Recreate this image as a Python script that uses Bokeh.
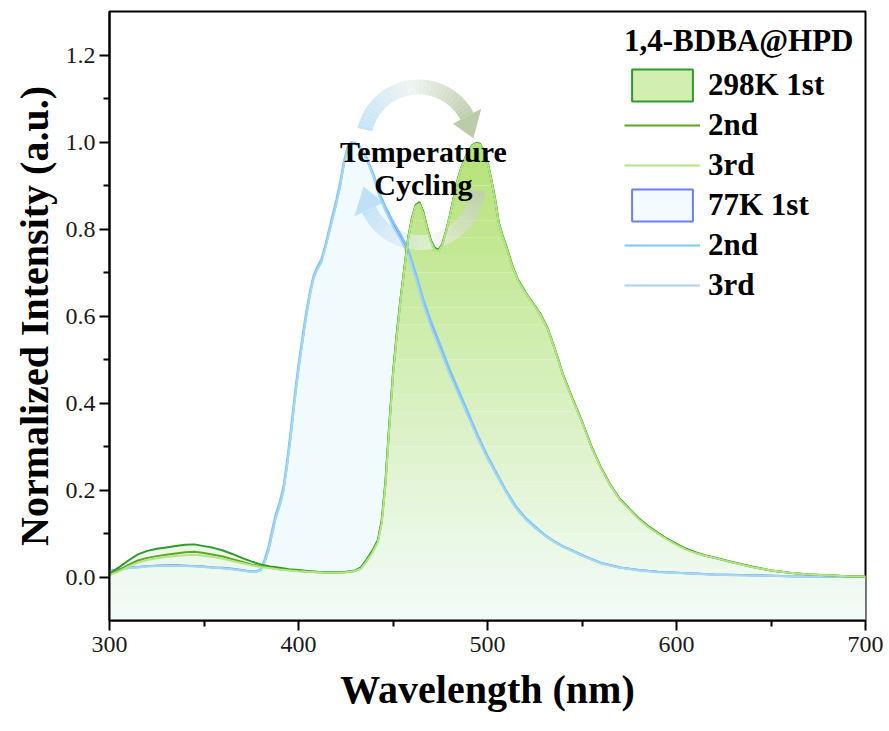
import numpy as np
from bokeh.plotting import figure
from bokeh.models import Legend, LegendItem, FixedTicker, PrintfTickFormatter, Range1d
from bokeh.embed import file_html
from bokeh.resources import INLINE
from bokeh.core.properties import value

# ---------------- data ----------------
wl_298 = [300, 305, 310, 315, 320, 325, 330, 335, 340, 345, 350, 355, 360, 365, 370, 375, 380, 385, 390, 395,
          400, 405, 410, 415, 420, 425, 430,
          433, 436, 439, 442, 444, 446, 448, 450, 452, 454, 456, 458, 460, 462, 464, 466, 468, 470, 472, 474,
          476, 478, 480, 482, 484, 486, 488, 490, 492, 494, 496, 498, 500, 502, 504, 506, 508, 510,
          513, 516, 520, 524, 528, 532, 536, 540, 545, 550, 555, 560, 565, 570, 575, 580, 585, 590, 595, 600,
          605, 610, 615, 620, 630, 640, 650, 660, 670, 680, 690, 700]

k298_1st = [0.008, 0.022, 0.038, 0.052, 0.060, 0.065, 0.068, 0.071, 0.074, 0.075, 0.071, 0.067, 0.061, 0.053,
            0.044, 0.036, 0.029, 0.024, 0.021, 0.018, 0.016, 0.014, 0.012, 0.011, 0.011, 0.012, 0.015,
            0.022, 0.040, 0.060, 0.085, 0.130, 0.220, 0.350, 0.470, 0.560, 0.640, 0.710, 0.780, 0.825, 0.855,
            0.862, 0.840, 0.805, 0.775, 0.757, 0.752, 0.765, 0.795, 0.830, 0.870, 0.910, 0.940, 0.962, 0.980,
            0.993, 0.998, 0.996, 0.982, 0.955, 0.915, 0.870, 0.815, 0.785, 0.760,
            0.718, 0.685, 0.655, 0.630, 0.605, 0.570, 0.520, 0.465, 0.410, 0.358, 0.300, 0.252, 0.212, 0.180,
            0.157, 0.135, 0.117, 0.102, 0.088, 0.076, 0.065, 0.057, 0.050, 0.045, 0.034, 0.024, 0.015, 0.010,
            0.006, 0.004, 0.002, 0.001]

k298_2nd = [0.006, 0.016, 0.028, 0.038, 0.044, 0.048, 0.051, 0.054, 0.057, 0.058, 0.055, 0.051, 0.047, 0.041,
            0.035, 0.029, 0.025, 0.021, 0.018, 0.016, 0.014, 0.012, 0.011, 0.010, 0.010, 0.011, 0.014,
            0.020, 0.037, 0.057, 0.082, 0.126, 0.214, 0.344, 0.466, 0.557, 0.638, 0.709, 0.778, 0.824, 0.854,
            0.860, 0.838, 0.803, 0.772, 0.754, 0.750, 0.763, 0.793, 0.829, 0.869, 0.909, 0.939, 0.961, 0.979,
            0.992, 0.997, 0.995, 0.981, 0.954, 0.914, 0.868, 0.813, 0.783, 0.758,
            0.716, 0.684, 0.654, 0.629, 0.604, 0.569, 0.519, 0.464, 0.409, 0.357, 0.299, 0.251, 0.211, 0.179,
            0.156, 0.134, 0.116, 0.101, 0.087, 0.075, 0.064, 0.056, 0.049, 0.044, 0.033, 0.023, 0.015, 0.010,
            0.006, 0.004, 0.002, 0.001]

k298_3rd = [0.004, 0.013, 0.024, 0.033, 0.039, 0.043, 0.046, 0.048, 0.050, 0.051, 0.049, 0.046, 0.042, 0.037,
            0.032, 0.027, 0.023, 0.020, 0.017, 0.015, 0.013, 0.012, 0.011, 0.010, 0.010, 0.011, 0.014,
            0.019, 0.036, 0.055, 0.080, 0.123, 0.210, 0.340, 0.462, 0.553, 0.635, 0.706, 0.776, 0.822, 0.852,
            0.858, 0.836, 0.801, 0.771, 0.753, 0.749, 0.762, 0.792, 0.828, 0.868, 0.908, 0.938, 0.960, 0.978,
            0.991, 0.996, 0.994, 0.980, 0.953, 0.913, 0.867, 0.812, 0.782, 0.757,
            0.715, 0.683, 0.653, 0.628, 0.603, 0.568, 0.518, 0.463, 0.408, 0.356, 0.298, 0.250, 0.210, 0.178,
            0.155, 0.133, 0.115, 0.100, 0.086, 0.074, 0.063, 0.055, 0.049, 0.044, 0.033, 0.023, 0.015, 0.010,
            0.006, 0.004, 0.002, 0.001]

wl_77 = [300, 305, 310, 315, 320, 325, 330, 335, 340, 345, 350, 355, 360, 365, 370, 374, 377,
         380, 382, 384, 386, 388, 390, 392, 394, 396, 398, 400, 402, 404, 406, 408, 410, 412, 414, 416, 418,
         420, 422, 424, 426, 428, 430, 432, 434, 436, 438, 440, 443, 446,
         450, 454, 458, 462, 466, 470, 475, 480, 485, 490, 495, 500, 505, 510, 515, 520, 525, 530, 535, 540,
         545, 550, 560, 570, 580, 590, 600, 620, 640, 660, 680, 700]

k77_1st = [0.014, 0.018, 0.021, 0.023, 0.025, 0.026, 0.027, 0.027, 0.026, 0.025, 0.024, 0.022, 0.021, 0.019,
           0.016, 0.013, 0.012,
           0.016, 0.035, 0.060, 0.100, 0.140, 0.165, 0.200, 0.260, 0.330, 0.410, 0.480, 0.540, 0.600, 0.650,
           0.690, 0.710, 0.725, 0.755, 0.790, 0.825, 0.860, 0.900, 0.950, 0.985, 0.998, 0.997, 0.990, 0.977,
           0.963, 0.940, 0.918, 0.875, 0.845,
           0.810, 0.780, 0.745, 0.690, 0.630, 0.580, 0.525, 0.470, 0.420, 0.370, 0.320, 0.275, 0.235, 0.195,
           0.160, 0.135, 0.115, 0.097, 0.082, 0.070, 0.060, 0.050, 0.032, 0.022, 0.016, 0.012, 0.010,
           0.006, 0.004, 0.002, 0.001, 0.000]

k77_2nd = [0.013, 0.017, 0.021, 0.023, 0.025, 0.026, 0.026, 0.026, 0.026, 0.025, 0.023, 0.022, 0.020, 0.018,
           0.015, 0.013, 0.012,
           0.018, 0.040, 0.068, 0.108, 0.146, 0.172, 0.208, 0.270, 0.342, 0.420, 0.490, 0.550, 0.608, 0.656,
           0.694, 0.714, 0.730, 0.760, 0.796, 0.832, 0.868, 0.908, 0.956, 0.989, 1.000, 0.998, 0.991, 0.979,
           0.966, 0.944, 0.923, 0.882, 0.852,
           0.818, 0.788, 0.754, 0.700, 0.640, 0.590, 0.535, 0.478, 0.427, 0.376, 0.325, 0.279, 0.238, 0.198,
           0.163, 0.137, 0.117, 0.098, 0.083, 0.071, 0.061, 0.051, 0.033, 0.022, 0.016, 0.012, 0.010,
           0.006, 0.004, 0.002, 0.001, 0.000]

k77_3rd = [0.012, 0.016, 0.020, 0.022, 0.024, 0.025, 0.026, 0.026, 0.025, 0.024, 0.023, 0.021, 0.020, 0.018,
           0.015, 0.012, 0.011,
           0.015, 0.033, 0.058, 0.096, 0.136, 0.162, 0.196, 0.255, 0.325, 0.405, 0.475, 0.536, 0.596, 0.646,
           0.686, 0.707, 0.722, 0.752, 0.787, 0.822, 0.857, 0.897, 0.947, 0.983, 0.997, 0.996, 0.989, 0.976,
           0.961, 0.938, 0.915, 0.872, 0.842,
           0.806, 0.776, 0.741, 0.686, 0.626, 0.576, 0.521, 0.466, 0.416, 0.366, 0.317, 0.272, 0.232, 0.193,
           0.158, 0.133, 0.113, 0.096, 0.081, 0.069, 0.059, 0.049, 0.031, 0.021, 0.015, 0.011, 0.009,
           0.005, 0.003, 0.002, 0.001, 0.000]

x_ticks = [300, 400, 500, 600, 700]
x_minor = [350, 450, 550, 650]
y_ticks = [0.0, 0.2, 0.4, 0.6, 0.8, 1.0, 1.2]
y_minor = [0.1, 0.3, 0.5, 0.7, 0.9, 1.1]

legend_title = "1,4-BDBA@HPD"
labels_298 = ["298K 1st", "2nd", "3rd"]
labels_77 = ["77K 1st", "2nd", "3rd"]
cycle_text = ["Temperature", "Cycling"]

# ---------------- styling ----------------
SERIF = "Liberation Serif"
W, H = 889, 731
BL, BR, BT, BB = 109, 24, 11, 111
X0, X1 = 300, 700
Y0, Y1 = -0.1, 1.3
FW, FH = W - BL - BR, H - BT - BB
NM_PER_PX = (X1 - X0) / FW
U_PER_PX = (Y1 - Y0) / FH

col_298 = ["#2f9b2f", "#5ea71f", "#b3e486"]
col_77 = ["#6d80ee", "#7dc6f4", "#a6d6f2"]
fill_77 = "#f1fbfd"


def hex_mix(c0, c1, t):
    a = [int(c0[i:i + 2], 16) for i in (1, 3, 5)]
    b = [int(c1[i:i + 2], 16) for i in (1, 3, 5)]
    return "#" + "".join(f"{round(a[k] + (b[k] - a[k]) * t):02x}" for k in range(3))


p = figure(width=W, height=H, output_backend="svg", toolbar_location=None,
           x_range=Range1d(X0, X1), y_range=Range1d(Y0, Y1),
           min_border_left=BL, min_border_right=BR, min_border_top=BT, min_border_bottom=BB)
p.background_fill_color = "white"
p.border_fill_color = "white"
p.xgrid.visible = False
p.ygrid.visible = False
p.outline_line_color = "black"
p.outline_line_width = 2

# ---------------- filled areas ----------------
x77 = np.array(wl_77, dtype=float)
y77 = np.array(k77_1st, dtype=float)
p.varea(x=x77, y1=np.full_like(y77, Y0), y2=y77, fill_color=fill_77, fill_alpha=1.0)

# vertical green gradient under the 298 K curve, built from horizontal bands
x298 = np.array(wl_298, dtype=float)
y298 = np.array(k298_1st, dtype=float)
levels = np.linspace(Y0, 1.02, 29)
g_top, g_bottom = "#b4e274", "#f3fbf8"
for lo, hi in zip(levels[:-1], levels[1:]):
    t = min(max(((lo + hi) / 2 - Y0) / (1.0 - Y0), 0.0), 1.0)
    p.varea(x=x298, y1=np.minimum(y298, lo), y2=np.minimum(y298, hi),
            fill_color=hex_mix(g_bottom, g_top, t ** 1.1), fill_alpha=1.0)

# ---------------- cycling arrows ----------------
def band_segments(cx, cy, r, half, a_start, a_end, n, colors):
    xs, ys, cs = [], [], []
    angs = np.radians(np.linspace(a_start, a_end, n + 1))
    for i in range(n):
        a0, a1 = angs[i], angs[i + 1]
        ro, ri = r + half, r - half
        px = [ro * np.cos(a0), ro * np.cos(a1), ri * np.cos(a1), ri * np.cos(a0)]
        py = [ro * np.sin(a0), ro * np.sin(a1), ri * np.sin(a1), ri * np.sin(a0)]
        xs.append([cx + v * NM_PER_PX for v in px])
        ys.append([cy + v * U_PER_PX for v in py])
        t = (i + 0.5) / n
        if t < 0.5:
            cs.append(hex_mix(colors[0], colors[1], t * 2))
        else:
            cs.append(hex_mix(colors[1], colors[2], (t - 0.5) * 2))
    return xs, ys, cs


def arrow_head(cx, cy, r, half, a_base, a_tip):
    ab, at = np.radians(a_base), np.radians(a_tip)
    px = [(r - half) * np.cos(ab), (r + half) * np.cos(ab), r * np.cos(at)]
    py = [(r - half) * np.sin(ab), (r + half) * np.sin(ab), r * np.sin(at)]
    return [cx + v * NM_PER_PX for v in px], [cy + v * U_PER_PX for v in py]


# upper arc: blue (cold) -> green (warm)
cx_t, cy_t = 463.5, 1.0
xs, ys, cs = band_segments(cx_t, cy_t, 55, 7.5, 167, 28, 36, ["#bfe0f7", "#edf3f2", "#b7caa4"])
p.patches(xs=xs, ys=ys, fill_color=cs, fill_alpha=0.9, line_alpha=0)
hx, hy = arrow_head(cx_t, cy_t, 55, 16, 28, 4)
p.patch(x=hx, y=hy, fill_color="#b2c69f", fill_alpha=0.9, line_alpha=0)

# lower arc: green (warm) -> blue (cold)
cx_b, cy_b = 464.6, 0.90
xs, ys, cs = band_segments(cx_b, cy_b, 57, 7.5, -5, -155, 36, ["#c2c2c2", "#f4f4f4", "#a9d5f4"])
p.patches(xs=xs, ys=ys, fill_color=cs, fill_alpha=0.6, line_alpha=0)
hx, hy = arrow_head(cx_b, cy_b, 57, 16, -155, -179)
p.patch(x=hx, y=hy, fill_color="#a9d5f4", fill_alpha=0.7, line_alpha=0)

# ---------------- spectra lines ----------------
r77 = []
for ys_, c in zip([k77_1st, k77_2nd, k77_3rd], col_77):
    r77.append(p.line(wl_77, ys_, line_color=c, line_width=2))
r298 = []
for ys_, c in zip([k298_1st, k298_2nd, k298_3rd], col_298):
    r298.append(p.line(wl_298, ys_, line_color=c, line_width=2))

# ---------------- annotation text ----------------
p.text(x=[466.1, 466.1], y=[0.978, 0.902], text=cycle_text,
       text_font=value(SERIF), text_font_style="bold", text_font_size="30px",
       text_align="center", text_baseline="middle", text_color="black")

# ---------------- legend ----------------
# swatch renderers holding a single undefined row: only their legend glyphs show
nan_box = dict(left=[np.nan], right=[np.nan], top=[np.nan], bottom=[np.nan])
leg_298 = p.quad(**nan_box, fill_color="#d2eeb0", line_color=col_298[0], line_width=2)
leg_77 = p.quad(**nan_box, fill_color="#f3fbfe", line_color=col_77[0], line_width=2)

items = [LegendItem(label=labels_298[0], renderers=[leg_298]),
         LegendItem(label=labels_298[1], renderers=[r298[1]]),
         LegendItem(label=labels_298[2], renderers=[r298[2]]),
         LegendItem(label=labels_77[0], renderers=[leg_77]),
         LegendItem(label=labels_77[1], renderers=[r77[1]]),
         LegendItem(label=labels_77[2], renderers=[r77[2]])]
legend = Legend(items=items, title=legend_title, location=(515, 315),
                title_text_font=SERIF, title_text_font_style="bold", title_text_font_size="31px",
                title_text_color="black", title_standoff=6,
                label_text_font=SERIF, label_text_font_style="bold", label_text_font_size="31px",
                label_text_color="black", label_standoff=8, label_height=40,
                glyph_width=76, glyph_height=40, spacing=0, padding=0, margin=0,
                border_line_alpha=0, background_fill_alpha=0)
p.add_layout(legend)

# ---------------- axes ----------------
p.xaxis.ticker = FixedTicker(ticks=x_ticks, minor_ticks=x_minor)
p.yaxis.ticker = FixedTicker(ticks=y_ticks, minor_ticks=y_minor)
p.yaxis.formatter = PrintfTickFormatter(format="%.1f")
p.xaxis.axis_label = "Wavelength (nm)"
p.yaxis.axis_label = "Normalized Intensity (a.u.)"
for ax in (p.xaxis, p.yaxis):
    ax.axis_line_width = 2
    ax.axis_line_color = "black"
    ax.major_tick_line_width = 2
    ax.minor_tick_line_width = 2
    ax.major_tick_out = 10
    ax.major_tick_in = 0
    ax.minor_tick_out = 6
    ax.minor_tick_in = 0
    ax.major_label_text_font = SERIF
    ax.major_label_text_font_size = "24px"
    ax.major_label_text_color = "#1a1a1a"
    ax.axis_label_text_font = SERIF
    ax.axis_label_text_font_style = "bold"
    ax.axis_label_text_font_size = "40px"
    ax.axis_label_text_color = "black"
p.xaxis.major_label_standoff = 6
p.xaxis.axis_label_standoff = 12
p.yaxis.major_label_standoff = 4
p.yaxis.axis_label_standoff = 6

open("out.html", "w").write(file_html(p, INLINE))
